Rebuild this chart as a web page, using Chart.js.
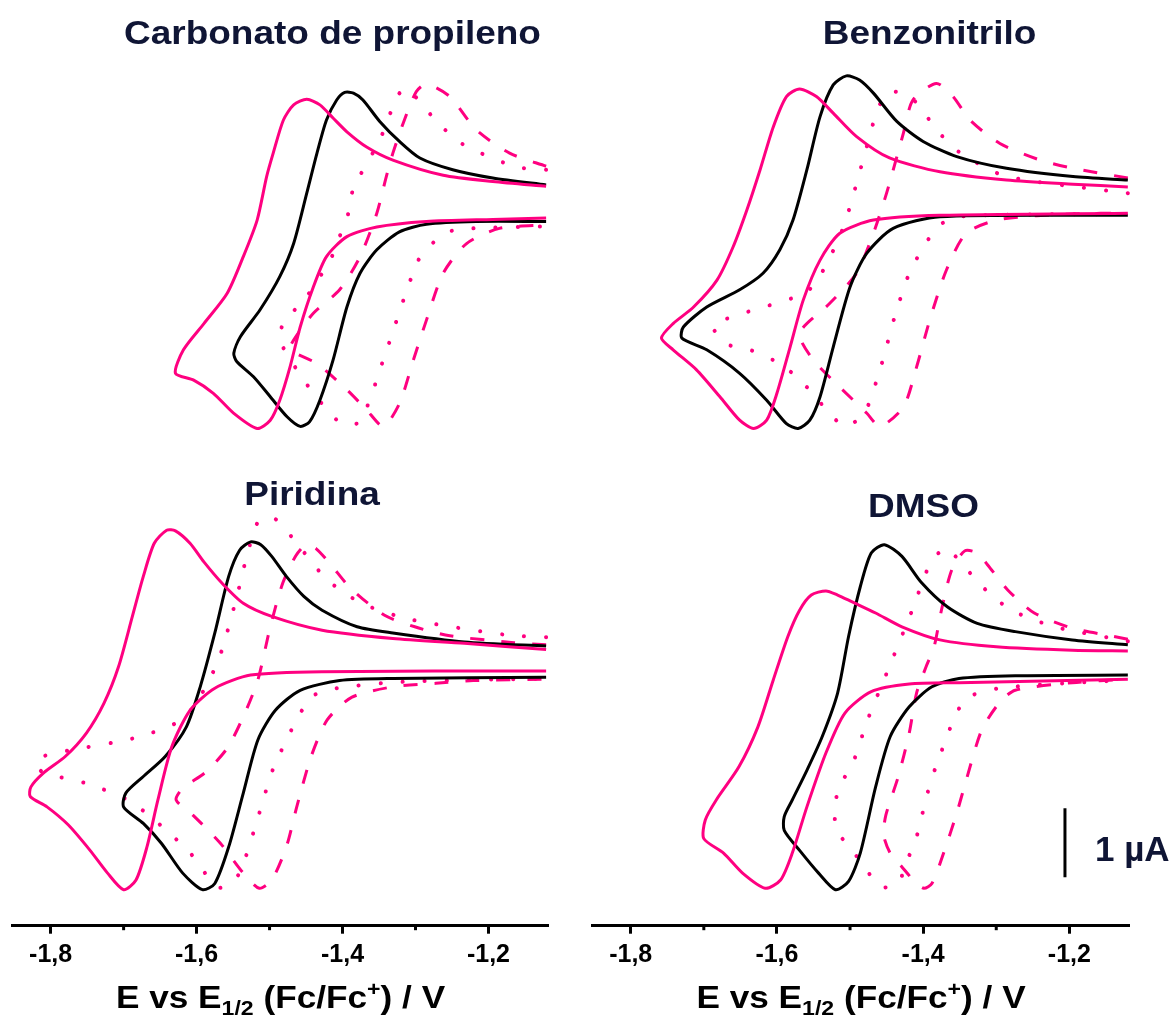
<!DOCTYPE html>
<html lang="es">
<head>
<meta charset="utf-8">
<title>Voltametrías cíclicas</title>
<script src="https://cdn.jsdelivr.net/npm/chart.js@4.4.1/dist/chart.umd.min.js"></script>
<style>
  html, body { margin: 0; padding: 0; background: #fff; }
  #figure { position: relative; width: 1174px; height: 1028px; overflow: hidden; }
  #figure canvas { position: absolute; }
</style>
</head>
<body>
<div id="figure">
  <canvas id="cvPC" width="580" height="460" style="left:0;top:0"></canvas>
  <canvas id="cvBZ" width="594" height="460" style="left:580px;top:0"></canvas>
  <canvas id="cvPY" width="580" height="568" style="left:0;top:460px"></canvas>
  <canvas id="cvDM" width="594" height="568" style="left:580px;top:460px"></canvas>
</div>
<script>
// === DATA (E in V vs E1/2 Fc/Fc+, I in µA) ===

// Carbonato de propileno
const pcPinkE = [-1.121,-1.194,-1.262,-1.331,-1.367,-1.394,-1.413,-1.431,-1.449,-1.467,-1.481,-1.495,-1.504,-1.517,-1.536,-1.558,-1.590,-1.618,-1.629,-1.604,-1.577,-1.549,-1.517,-1.499,-1.486,-1.472,-1.458,-1.440,-1.422,-1.394,-1.353,-1.285,-1.194,-1.121];
const pcPinkI = [0.17,0.24,0.33,0.55,0.74,0.96,1.16,1.35,1.43,1.35,1.13,0.65,0.31,-0.32,-0.85,-1.38,-1.82,-2.20,-2.54,-2.64,-2.83,-3.12,-3.34,-3.22,-2.93,-2.45,-1.87,-1.29,-0.85,-0.56,-0.42,-0.34,-0.31,-0.29];
const pcBlackE = [-1.121,-1.194,-1.249,-1.294,-1.322,-1.349,-1.372,-1.385,-1.397,-1.408,-1.422,-1.435,-1.449,-1.467,-1.486,-1.513,-1.540,-1.549,-1.545,-1.522,-1.499,-1.476,-1.458,-1.445,-1.431,-1.413,-1.394,-1.376,-1.353,-1.322,-1.285,-1.217,-1.121];
const pcBlackI = [0.19,0.29,0.41,0.58,0.82,1.11,1.42,1.52,1.53,1.42,1.13,0.65,0.07,-0.66,-1.14,-1.62,-2.01,-2.25,-2.37,-2.59,-2.88,-3.17,-3.31,-3.24,-2.93,-2.35,-1.58,-1.09,-0.75,-0.49,-0.38,-0.34,-0.34];
const pcDashE = [-1.121,-1.171,-1.217,-1.253,-1.285,-1.299,-1.317,-1.331,-1.340,-1.353,-1.376,-1.404,-1.440,-1.467,-1.472,-1.435,-1.394,-1.367,-1.344,-1.322,-1.303,-1.285,-1.262,-1.230,-1.185,-1.121];
const pcDashI = [0.46,0.65,0.99,1.47,1.65,1.54,1.08,0.65,0.31,-0.22,-0.85,-1.33,-1.67,-2.06,-2.20,-2.40,-2.78,-3.07,-3.31,-2.98,-2.35,-1.77,-1.09,-0.66,-0.44,-0.39];
const pcDotE = [-1.121,-1.162,-1.221,-1.244,-1.269,-1.292,-1.311,-1.324,-1.349,-1.385,-1.392,-1.404,-1.417,-1.454,-1.479,-1.486,-1.445,-1.424,-1.401,-1.376,-1.342,-1.297,-1.274,-1.249,-1.221,-1.121];
const pcDotI = [0.41,0.45,0.70,0.84,1.09,1.36,1.59,1.49,0.84,0.14,-0.22,-0.56,-0.90,-1.50,-1.77,-2.06,-2.76,-3.03,-3.27,-3.24,-2.28,-0.92,-0.63,-0.47,-0.44,-0.41];

// Benzonitrilo
const bzPinkE = [-1.120,-1.195,-1.286,-1.377,-1.446,-1.491,-1.523,-1.546,-1.569,-1.587,-1.605,-1.623,-1.641,-1.660,-1.682,-1.714,-1.742,-1.758,-1.742,-1.710,-1.678,-1.651,-1.632,-1.614,-1.600,-1.582,-1.564,-1.541,-1.514,-1.468,-1.377,-1.120];
const bzPinkI = [0.16,0.20,0.26,0.38,0.58,0.89,1.23,1.47,1.58,1.47,1.03,0.41,-0.17,-0.71,-1.19,-1.58,-1.82,-2.03,-2.20,-2.49,-2.88,-3.22,-3.34,-3.22,-2.83,-2.16,-1.48,-0.90,-0.51,-0.32,-0.25,-0.22];
const bzBlackE = [-1.120,-1.195,-1.286,-1.354,-1.400,-1.436,-1.468,-1.487,-1.505,-1.523,-1.541,-1.559,-1.578,-1.596,-1.619,-1.651,-1.696,-1.728,-1.730,-1.696,-1.651,-1.614,-1.587,-1.571,-1.555,-1.541,-1.523,-1.500,-1.477,-1.441,-1.377,-1.120];
const bzBlackI = [0.26,0.31,0.43,0.60,0.82,1.11,1.52,1.71,1.77,1.64,1.18,0.41,-0.32,-0.75,-1.09,-1.33,-1.58,-1.87,-2.03,-2.20,-2.54,-2.93,-3.27,-3.34,-3.22,-2.88,-2.16,-1.29,-0.80,-0.44,-0.27,-0.25];
const bzDashE = [-1.120,-1.195,-1.240,-1.295,-1.336,-1.359,-1.382,-1.414,-1.427,-1.450,-1.468,-1.491,-1.528,-1.569,-1.550,-1.514,-1.477,-1.459,-1.427,-1.409,-1.391,-1.368,-1.341,-1.295,-1.195,-1.120];
const bzDashI = [0.29,0.43,0.55,0.79,1.13,1.47,1.66,1.42,0.94,0.07,-0.51,-1.09,-1.53,-1.96,-2.35,-2.74,-3.12,-3.31,-3.03,-2.45,-1.77,-1.04,-0.51,-0.31,-0.23,-0.22];
const bzDotE = [-1.120,-1.288,-1.350,-1.375,-1.395,-1.418,-1.446,-1.462,-1.484,-1.509,-1.539,-1.562,-1.687,-1.667,-1.637,-1.605,-1.575,-1.553,-1.532,-1.507,-1.480,-1.458,-1.449,-1.440,-1.418,-1.382,-1.354,-1.120];
const bzDotI = [0.07,0.32,0.66,0.91,1.18,1.47,1.54,1.29,0.48,-0.42,-1.09,-1.38,-1.84,-2.12,-2.20,-2.35,-2.57,-2.81,-3.07,-3.31,-3.11,-2.45,-2.11,-1.76,-1.07,-0.44,-0.27,-0.23];

// Piridina
const pyPinkE = [-1.121,-1.233,-1.331,-1.428,-1.497,-1.536,-1.565,-1.590,-1.609,-1.629,-1.641,-1.658,-1.673,-1.688,-1.707,-1.727,-1.751,-1.780,-1.810,-1.827,-1.828,-1.805,-1.776,-1.746,-1.722,-1.700,-1.683,-1.668,-1.653,-1.634,-1.609,-1.575,-1.526,-1.428,-1.121];
const pyPinkI = [0.05,0.14,0.21,0.33,0.53,0.72,1.01,1.32,1.59,1.77,1.78,1.59,1.11,0.53,-0.20,-0.73,-1.16,-1.50,-1.74,-1.94,-2.08,-2.23,-2.49,-2.86,-3.19,-3.43,-3.29,-2.81,-2.13,-1.36,-0.83,-0.51,-0.32,-0.27,-0.26];
const pyBlackE = [-1.121,-1.233,-1.331,-1.380,-1.428,-1.453,-1.477,-1.497,-1.512,-1.526,-1.541,-1.556,-1.575,-1.595,-1.614,-1.643,-1.673,-1.697,-1.700,-1.673,-1.648,-1.619,-1.592,-1.575,-1.556,-1.536,-1.516,-1.492,-1.458,-1.404,-1.331,-1.121];
const pyBlackI = [0.10,0.16,0.29,0.38,0.62,0.82,1.11,1.40,1.57,1.61,1.49,1.11,0.29,-0.49,-1.07,-1.50,-1.79,-2.03,-2.23,-2.47,-2.76,-3.19,-3.43,-3.34,-2.81,-2.03,-1.26,-0.83,-0.54,-0.40,-0.37,-0.35];
const pyDashE = [-1.121,-1.165,-1.253,-1.301,-1.343,-1.389,-1.416,-1.436,-1.450,-1.464,-1.482,-1.499,-1.516,-1.535,-1.558,-1.588,-1.619,-1.628,-1.605,-1.568,-1.536,-1.514,-1.497,-1.477,-1.462,-1.443,-1.421,-1.387,-1.331,-1.272,-1.221,-1.121];
const pyDashI = [0.12,0.15,0.25,0.38,0.55,0.94,1.28,1.51,1.57,1.41,1.01,0.38,-0.39,-0.90,-1.38,-1.73,-1.96,-2.13,-2.35,-2.75,-3.19,-3.41,-3.29,-2.81,-2.20,-1.50,-0.97,-0.64,-0.49,-0.44,-0.40,-0.38];
const pyDotE = [-1.121,-1.174,-1.309,-1.370,-1.397,-1.424,-1.468,-1.492,-1.514,-1.529,-1.546,-1.570,-1.602,-1.629,-1.688,-1.788,-1.819,-1.812,-1.748,-1.688,-1.612,-1.570,-1.543,-1.514,-1.494,-1.446,-1.419,-1.322,-1.121];
const pyDotI = [0.23,0.26,0.49,0.70,0.87,1.09,1.66,1.94,1.93,1.49,0.77,-0.10,-0.75,-1.02,-1.24,-1.44,-1.54,-1.72,-1.90,-2.17,-2.86,-3.40,-3.22,-2.32,-1.65,-0.67,-0.53,-0.42,-0.37];

// DMSO
const dmPinkE = [-1.120,-1.196,-1.300,-1.377,-1.429,-1.465,-1.497,-1.517,-1.533,-1.553,-1.569,-1.585,-1.605,-1.626,-1.652,-1.683,-1.698,-1.700,-1.673,-1.647,-1.616,-1.595,-1.579,-1.559,-1.533,-1.507,-1.471,-1.419,-1.351,-1.120];
const dmPinkI = [0.03,0.04,0.09,0.19,0.38,0.58,0.74,0.84,0.90,0.84,0.62,0.24,-0.39,-1.07,-1.65,-2.13,-2.42,-2.69,-2.90,-3.19,-3.41,-3.29,-2.90,-2.23,-1.45,-0.87,-0.56,-0.45,-0.43,-0.38];
const dmBlackE = [-1.120,-1.196,-1.274,-1.326,-1.367,-1.403,-1.429,-1.453,-1.471,-1.486,-1.502,-1.517,-1.538,-1.559,-1.579,-1.590,-1.590,-1.569,-1.543,-1.520,-1.502,-1.486,-1.465,-1.445,-1.419,-1.388,-1.351,-1.274,-1.120];
const dmBlackI = [0.12,0.19,0.31,0.43,0.67,1.03,1.40,1.57,1.45,0.96,0.24,-0.58,-1.21,-1.70,-2.13,-2.37,-2.57,-2.86,-3.19,-3.43,-3.31,-2.90,-1.94,-1.21,-0.78,-0.49,-0.37,-0.33,-0.32];
const dmDashE = [-1.120,-1.144,-1.196,-1.248,-1.284,-1.312,-1.326,-1.343,-1.361,-1.375,-1.385,-1.396,-1.409,-1.419,-1.434,-1.451,-1.454,-1.445,-1.429,-1.411,-1.399,-1.388,-1.372,-1.354,-1.341,-1.320,-1.295,-1.274,-1.196,-1.120];
const dmDashI = [0.20,0.25,0.36,0.58,0.91,1.28,1.45,1.48,1.20,0.62,0.09,-0.20,-0.58,-1.16,-1.79,-2.35,-2.64,-2.90,-3.10,-3.32,-3.41,-3.34,-2.90,-2.32,-1.84,-1.12,-0.71,-0.54,-0.43,-0.38];
const dmDotE = [-1.120,-1.217,-1.248,-1.279,-1.307,-1.331,-1.353,-1.370,-1.391,-1.415,-1.449,-1.476,-1.497,-1.515,-1.521,-1.518,-1.499,-1.479,-1.458,-1.434,-1.424,-1.411,-1.394,-1.384,-1.344,-1.295,-1.120];
const dmDotI = [0.17,0.37,0.48,0.62,0.84,1.10,1.37,1.52,1.28,0.62,-0.27,-0.97,-1.62,-1.94,-2.28,-2.58,-2.83,-3.12,-3.39,-3.34,-3.05,-2.74,-2.03,-1.69,-0.69,-0.51,-0.39];

// axes
const E_MIN = -1.852, E_MAX = -1.118;
const majorStep = 0.2;
const minorTicks = [-1.7, -1.5, -1.3];
const topRange = [-3.507, 2.0];
const bottomRange = [-3.952, 2.0];
// 1 µA scale bar (DMSO panel)
const scaleBarE = -1.206, scaleBarFrom = -3.25, scaleBarLen = 1;

const PINK = '#ff0080';
const NAVY = '#0f1535';
const FONT = '"Liberation Sans", Arial, Helvetica, sans-serif';

const AXIS_TITLE = [
    { text: 'E vs E', size: 32 },
    { text: '1/2', size: 21, dy: 7 },
    { text: ' (Fc/Fc', size: 32 },
    { text: '+', size: 21, dy: -12 },
    { text: ') / V', size: 32 }
];

function curve(E, I) {
    return E.map((e, k) => ({ x: e, y: I[k] }));
}

function solid(E, I, color) {
    return { data: curve(E, I), borderColor: color, borderWidth: 3 };
}
function dashed(E, I) {
    return { data: curve(E, I), borderColor: PINK, borderWidth: 3, borderDash: [14, 17], borderCapStyle: 'butt' };
}
function dotted(E, I) {
    return { data: curve(E, I), borderColor: PINK, borderWidth: 4, borderDash: [0.1, 22], borderCapStyle: 'round' };
}

// rich text: parts drawn side by side, with sub/superscript offsets and a slight horizontal stretch
function drawRich(ctx, parts, x, baseline, stretch, color, align) {
    ctx.save();
    let total = 0;
    parts.forEach(p => {
        ctx.font = `bold ${p.size}px ${FONT}`;
        p.w = ctx.measureText(p.text).width;
        total += p.w;
    });
    const left = align === 'left' ? x : x - total * stretch / 2;
    ctx.translate(left, baseline);
    ctx.scale(stretch, 1);
    ctx.fillStyle = color;
    ctx.textAlign = 'left';
    ctx.textBaseline = 'alphabetic';
    let cursor = 0;
    parts.forEach(p => {
        ctx.font = `bold ${p.size}px ${FONT}`;
        ctx.fillText(p.text, cursor, p.dy || 0);
        cursor += p.w;
    });
    ctx.restore();
}

const panelText = {
    id: 'panelText',
    afterDraw(chart, args, opts) {
        const { ctx, chartArea } = chart;
        if (opts.title) {
            drawRich(ctx, [{ text: opts.title, size: 33 }], opts.titleX, opts.titleY, 1.12, NAVY);
        }
        if (opts.axisTitle) {
            const xs = chart.scales.x;
            ctx.save();
            ctx.strokeStyle = '#000';
            ctx.lineWidth = 3;
            minorTicks.forEach(v => {
                const px = xs.getPixelForValue(v);
                ctx.beginPath();
                ctx.moveTo(px, chartArea.bottom);
                ctx.lineTo(px, chartArea.bottom + 4.5);
                ctx.stroke();
            });
            ctx.restore();
            const cx = (chartArea.left + chartArea.right) / 2;
            drawRich(ctx, AXIS_TITLE, cx, chartArea.bottom + 82.6, 1.1, '#000');
        }
        if (opts.scaleBar) {
            const xs = chart.scales.x, ys = chart.scales.y;
            const bx = xs.getPixelForValue(scaleBarE);
            const y0 = ys.getPixelForValue(scaleBarFrom);
            const y1 = ys.getPixelForValue(scaleBarFrom + scaleBarLen);
            ctx.save();
            ctx.strokeStyle = '#000';
            ctx.lineWidth = 3;
            ctx.beginPath();
            ctx.moveTo(bx, y0);
            ctx.lineTo(bx, y1);
            ctx.stroke();
            ctx.restore();
            drawRich(ctx, [{ text: '1 µA', size: 35 }], bx + 30, (y0 + y1) / 2 + 18, 1, NAVY, 'left');
        }
    }
};

function makePanel(id, sets, range, bottomAxis, padding, text) {
    const ctx = document.getElementById(id).getContext('2d');
    const xAxis = {
        type: 'linear',
        min: E_MIN,
        max: E_MAX,
        display: bottomAxis,
        border: { display: true, color: '#000', width: 3 },
        grid: { drawOnChartArea: false, drawTicks: true, tickLength: 8, tickWidth: 3, tickColor: '#000' },
        ticks: {
            stepSize: majorStep,
            includeBounds: false,
            padding: 6,
            color: '#000',
            font: { family: FONT, size: 25, weight: 'bold' },
            maxRotation: 0,
            callback: (v) => v.toFixed(1).replace('.', ',')
        }
    };
    // fixed axis band so the plot area lines up with the figure
    if (bottomAxis) xAxis.afterFit = (scale) => { scale.height = 102.3; };

    return new Chart(ctx, {
        type: 'scatter',
        data: {
            datasets: sets.map(s => Object.assign({
                showLine: true,
                pointRadius: 0,
                pointHoverRadius: 0,
                tension: 0.25,
                borderJoinStyle: 'round',
                fill: false,
                clip: false
            }, s))
        },
        options: {
            responsive: false,
            animation: false,
            events: [],
            layout: { padding: padding },
            plugins: {
                legend: { display: false },
                tooltip: { enabled: false },
                panelText: text
            },
            scales: {
                x: xAxis,
                y: { type: 'linear', min: range[0], max: range[1], display: false }
            }
        },
        plugins: [panelText]
    });
}

makePanel('cvPC', [
    solid(pcPinkE, pcPinkI, PINK), solid(pcBlackE, pcBlackI, '#000'),
    dashed(pcDashE, pcDashI), dotted(pcDotE, pcDotI)
], topRange, false, { left: 12.7, right: 31.7, top: 60, bottom: 20 },
   { title: 'Carbonato de propileno', titleX: 332.5, titleY: 44 });

makePanel('cvBZ', [
    solid(bzPinkE, bzPinkI, PINK), solid(bzBlackE, bzBlackI, '#000'),
    dashed(bzDashE, bzDashI), dotted(bzDotE, bzDotI)
], topRange, false, { left: 12.7, right: 44.7, top: 60, bottom: 20 },
   { title: 'Benzonitrilo', titleX: 349.5, titleY: 44 });

makePanel('cvPY', [
    solid(pyPinkE, pyPinkI, PINK), solid(pyBlackE, pyBlackI, '#000'),
    dashed(pyDashE, pyDashI), dotted(pyDotE, pyDotI)
], bottomRange, true, { left: 12.7, right: 31.7, top: 55, bottom: 0 },
   { title: 'Piridina', titleX: 312, titleY: 45, axisTitle: true });

makePanel('cvDM', [
    solid(dmPinkE, dmPinkI, PINK), solid(dmBlackE, dmBlackI, '#000'),
    dashed(dmDashE, dmDashI), dotted(dmDotE, dmDotI)
], bottomRange, true, { left: 12.7, right: 44.7, top: 55, bottom: 0 },
   { title: 'DMSO', titleX: 343.5, titleY: 57, axisTitle: true, scaleBar: true });
</script>
</body>
</html>
